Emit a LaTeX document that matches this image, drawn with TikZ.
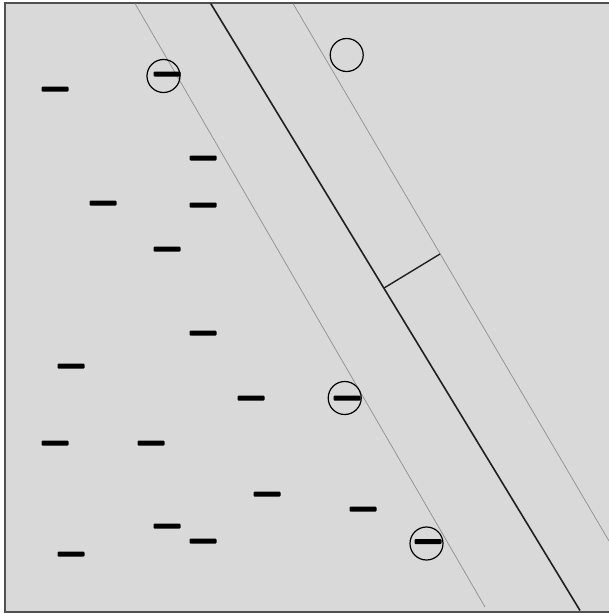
\documentclass[tikz,border=0pt]{standalone}
\usetikzlibrary{calc}
\definecolor{bggray}{HTML}{D9D9D9}
\definecolor{framegray}{HTML}{505050}
\definecolor{marginline}{HTML}{8F8F8F}
\definecolor{hyperline}{HTML}{202020}
\tikzset{
  minus/.style={rectangle, fill=black, inner sep=0pt, minimum width=27pt, minimum height=5pt, rounded corners=1pt},
  ring/.style={circle, draw=black, line width=1.2pt, inner sep=0pt, minimum size=33pt},
  margin/.style={draw=marginline, line width=0.7pt},
  hyper/.style={draw=hyperline, line width=1.6pt},
}
\begin{document}
\begin{tikzpicture}[x=1pt,y=-1pt]
\useasboundingbox (0,0) rectangle (608,613);
\fill[white] (0,0) rectangle (608,613);
\draw[fill=bggray, draw=framegray, line width=2pt] (4.5,2.5) rectangle (625,611.5);
% lines
\coordinate (l1) at (135,3.5);
\coordinate (l2) at (485,607);
\coordinate (h1) at (210.7,3.5);
\coordinate (h2) at (580,610.5);
\coordinate (r1) at (293,3.5);
\coordinate (r2) at (609,541);
\coordinate (p) at (440,254);
\draw[margin] (l1) -- (l2);
\draw[margin] (r1) -- (r2);
\draw[hyper] (h1) -- (h2);
\coordinate (foot) at ($(h1)!(p)!(h2)$);
\draw[draw=hyperline, line width=1.4pt] (foot) -- (p);
% circles
\node[ring] (c1) at (163.5,76) {};
\node[ring] (c2) at (344.7,398) {};
\node[ring] (c3) at (426.5,543.5) {};
\node[ring] (c4) at (346.7,55) {};
% circled minus signs
\node[minus] (cm1) at (167,74) {};
\node[minus] (cm2) at (347,398) {};
\node[minus] (cm3) at (428,541.7) {};
% minus signs
\node[minus] (m1) at (55,89) {};
\node[minus] (m2) at (203,158) {};
\node[minus] (m3) at (103,203) {};
\node[minus] (m4) at (203,205) {};
\node[minus] (m5) at (167,249) {};
\node[minus] (m6) at (203,333) {};
\node[minus] (m7) at (71,366) {};
\node[minus] (m8) at (251,398) {};
\node[minus] (m9) at (55,443) {};
\node[minus] (m10) at (151,443) {};
\node[minus] (m11) at (267,494) {};
\node[minus] (m12) at (363,509) {};
\node[minus] (m13) at (167,526) {};
\node[minus] (m14) at (203,541) {};
\node[minus] (m15) at (71,554) {};
\end{tikzpicture}
\end{document}
